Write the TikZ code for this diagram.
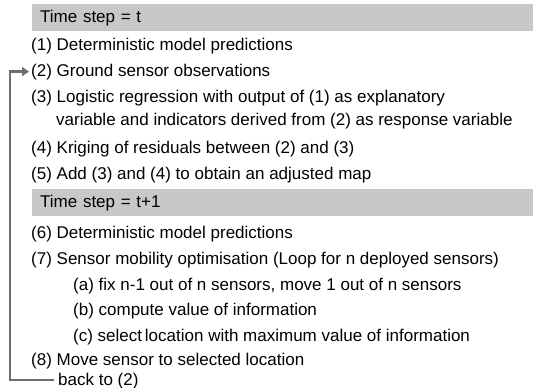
\documentclass[tikz,border=0pt]{standalone}
\usepackage{fontspec}
\setmainfont{Liberation Sans}
\usetikzlibrary{positioning,arrows.meta}

\definecolor{bandgray}{HTML}{C8C8C8}
\definecolor{loopgray}{HTML}{6E6E6E}

\begin{document}
\begin{tikzpicture}[x=1pt, y=-1pt, font=\fontsize{17}{20}\selectfont,
    band/.style={fill=bandgray, anchor=north west, inner xsep=8pt, inner ysep=0pt,
      text width=485pt, minimum height=27pt, align=left},
    item/.style={anchor=base west, inner sep=0pt},
    loopline/.style={draw=loopgray, line width=2.4pt, -{Triangle[length=7pt, width=9pt]}}]
  \useasboundingbox (0,0) rectangle (533,388);

  % time step t
  \node[band] (tA) at (32,4) {Time step = t};
  \node[item] (s1) at (31,50)  {(1) Deterministic model predictions};
  \node[item] (s2) at (31,76)  {(2) Ground sensor observations};
  \node[item] (s3) at (31,102) {(3) Logistic regression with output of (1) as explanatory};
  \node[item] (s3b) at (56,125) {variable and indicators derived from (2) as response variable};
  \node[item] (s4) at (31,153) {(4) Kriging of residuals between (2) and (3)};
  \node[item] (s5) at (31,179) {(5) Add (3) and (4) to obtain an adjusted map};

  % time step t+1
  \node[band] (tB) at (32,189) {Time step = t+1};
  \node[item] (s6) at (31,238) {(6) Deterministic model predictions};
  \node[item] (s7) at (31,264) {(7) Sensor mobility optimisation (Loop for n deployed sensors)};
  \node[item] (s7a) at (73,290) {(a) fix n-1 out of n sensors, move 1 out of n sensors};
  \node[item] (s7b) at (73,315) {(b) compute value of information};
  \node[item] (s7c) at (73,341) {(c) select\,location with maximum value of information};
  \node[item] (s8) at (31,365) {(8) Move sensor to selected location};
  \node[item] (back) at (58,385) {back to (2)};

  % loop back to (2)
  \coordinate (rail) at (10,0);
  \draw[loopline] ([xshift=-4pt, yshift=5pt]back.base west) -- ([yshift=5pt]back.base west -| rail)
    |- ([xshift=-2pt]s2.west);
\end{tikzpicture}
\end{document}
